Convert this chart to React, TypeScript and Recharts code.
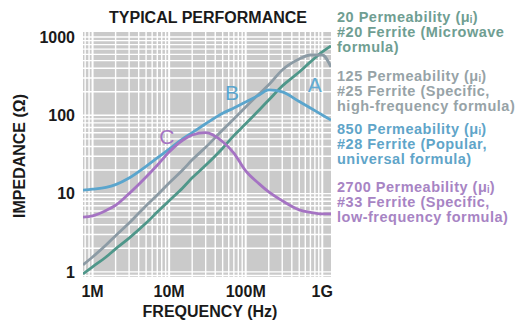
import React from 'react';
import {
  LineChart,
  Line,
  XAxis,
  YAxis,
  CartesianGrid,
  ReferenceLine,
  ReferenceDot,
} from 'recharts';

// frequency points (Hz) shared by all curves
const freqs = [
  0.75e6, 1e6, 1.5e6, 2e6, 3e6, 5e6, 7e6, 1e7, 1.5e7, 2e7, 3e7, 5e7, 7e7, 1e8,
  1.5e8, 2e8, 3e8, 5e8, 7e8, 1e9, 1.3e9,
];

// impedance (ohm)
const mu20 = [0.94, 1.16, 1.55, 1.97, 2.7, 4.2, 5.8, 8.1, 11.8, 15.9, 23, 38, 55, 78, 117, 157, 237, 358, 481, 645, 770];
const mu125 = [1.23, 1.55, 2.2, 2.9, 4.2, 7.0, 9.6, 13.7, 20, 27, 39, 65, 90, 128, 188, 245, 380, 525, 590, 590, 415];
const mu850 = [11.1, 11.4, 12.0, 13.0, 15.8, 22.3, 28.6, 37, 50, 60, 78, 106, 124, 148, 182, 211, 199, 150, 124, 101, 87];
const mu2700 = [5.0, 5.2, 6.1, 7.1, 10.0, 16.3, 23, 34, 48, 56, 60, 46, 33, 19.5, 13.3, 10.5, 8.1, 6.2, 5.75, 5.5, 5.5];

const xTicks = [1e6, 1e7, 1e8, 1e9];
const xTickLabels = ['1M', '10M', '100M', '1G'];
const yTicks = [1, 10, 100, 1000];

const xDomain = [0.75e6, 1.3e9];
const yDomain = [0.86, 1160];

// log grid: 1..9 in every decade
const gridSteps = [1, 2, 3, 4, 5, 6, 7, 8, 9];
const xDecades = [1e5, 1e6, 1e7, 1e8, 1e9];
const yDecades = [0.1, 1, 10, 100, 1000];

const legendLines = [
  ['20 Permeability (μᵢ)', '#20 Ferrite (Microwave', 'formula)'],
  ['125 Permeability (μᵢ)', '#25 Ferrite (Specific,', 'high-frequency formula)'],
  ['850 Permeability (μᵢ)', '#28 Ferrite (Popular,', 'universal formula)'],
  ['2700 Permeability (μᵢ)', '#33 Ferrite (Specific,', 'low-frequency formula)'],
];

const curveLetters = [
  { label: 'A', f: 8.0e8, z: 245 },
  { label: 'B', f: 6.6e7, z: 193 },
  { label: 'C', f: 9.3e6, z: 53 },
];

const series = [
  { key: 'mu20', color: '#4f978a' },
  { key: 'mu125', color: '#8c9ba5' },
  { key: 'mu850', color: '#5aa5cd' },
  { key: 'mu2700', color: '#a573c3' },
];
const legendColors = ['#6f9e92', '#97a3a7', '#5fa5c9', '#a784c4'];
const legendTop = [22, 81, 134, 192];
const letterColors = ['#62acd4', '#5aa5cd', '#a573c3'];

const FONT = '"Liberation Sans", Arial, Helvetica, sans-serif';

const data = freqs.map((f, i) => ({
  f,
  mu20: mu20[i],
  mu125: mu125[i],
  mu850: mu850[i],
  mu2700: mu2700[i],
}));

const xGrid = xDecades
  .flatMap((d) => gridSteps.map((s) => s * d))
  .filter((v) => v >= xDomain[0] && v <= xDomain[1]);
const yGrid = yDecades
  .flatMap((d) => gridSteps.map((s) => s * d))
  .filter((v) => v >= yDomain[0] && v <= yDomain[1]);

const App: React.FC = () => {
  return (
    <div
      style={{
        position: 'absolute',
        left: 0,
        top: 0,
        width: 520,
        height: 327,
        background: '#fff',
        fontFamily: FONT,
      }}
    >
      <LineChart
        width={520}
        height={327}
        data={data}
        margin={{ top: 32, right: 189, bottom: 0, left: 0 }}
      >
        <CartesianGrid fill="#cacaca" horizontal={false} vertical={false} />
        <XAxis
          dataKey="f"
          type="number"
          scale="log"
          domain={xDomain}
          allowDataOverflow
          ticks={xTicks}
          tickFormatter={(v) => xTickLabels[xTicks.indexOf(v)] ?? ''}
          axisLine={false}
          tickLine={false}
          tickSize={0}
          tickMargin={9}
          height={50}
          tick={{ fill: '#1a1a1a', fontSize: 16, fontWeight: 'bold', fontFamily: FONT }}
        />
        <YAxis
          type="number"
          scale="log"
          domain={yDomain}
          allowDataOverflow
          ticks={yTicks}
          axisLine={false}
          tickLine={false}
          tickSize={0}
          tickMargin={8}
          width={83}
          tick={{ fill: '#1a1a1a', fontSize: 16, fontWeight: 'bold', fontFamily: FONT }}
        />
        {xGrid.map((v) => (
          <ReferenceLine
            key={'x' + v}
            x={v}
            stroke="#ffffff"
            strokeWidth={xTicks.includes(v) ? 2 : 1.4}
            zIndex={-50}
          />
        ))}
        {yGrid.map((v) => (
          <ReferenceLine
            key={'y' + v}
            y={v}
            stroke="#ffffff"
            strokeWidth={1.4}
            zIndex={-50}
          />
        ))}
        {series.map((s) => (
          <Line
            key={s.key}
            type="monotone"
            dataKey={s.key}
            stroke={s.color}
            strokeWidth={2.8}
            dot={false}
            activeDot={false}
            isAnimationActive={false}
          />
        ))}
        {curveLetters.map((c, i) => (
          <ReferenceDot
            key={c.label}
            x={c.f}
            y={c.z}
            r={1}
            fill="none"
            stroke="none"
            label={{
              value: c.label,
              position: 'center',
              fill: letterColors[i],
              fontSize: 21,
              fontFamily: FONT,
            }}
          />
        ))}
      </LineChart>

      <svg
        width={520}
        height={327}
        style={{ position: 'absolute', left: 0, top: 0, pointerEvents: 'none' }}
        fontFamily={FONT}
      >
        <text x={208} y={23} textAnchor="middle" fontSize={16} fontWeight="bold" fill="#1a1a1a">
          TYPICAL PERFORMANCE
        </text>
        <text x={210} y={317} textAnchor="middle" fontSize={16} fontWeight="bold" fill="#1a1a1a">
          FREQUENCY (Hz)
        </text>
        <text
          x={19}
          y={156}
          textAnchor="middle"
          dominantBaseline="central"
          fontSize={16}
          fontWeight="bold"
          fill="#1a1a1a"
          transform="rotate(-90 19 156)"
        >
          IMPEDANCE (Ω)
        </text>
        {legendLines.map((lines, i) => (
          <g key={i} fill={legendColors[i]} fontSize={14.5} fontWeight="bold" letterSpacing={0.5}>
            {lines.map((line, j) => (
              <text key={j} x={337} y={legendTop[i] + 15 * j}>
                {line}
              </text>
            ))}
          </g>
        ))}
      </svg>
    </div>
  );
};

export default App;
